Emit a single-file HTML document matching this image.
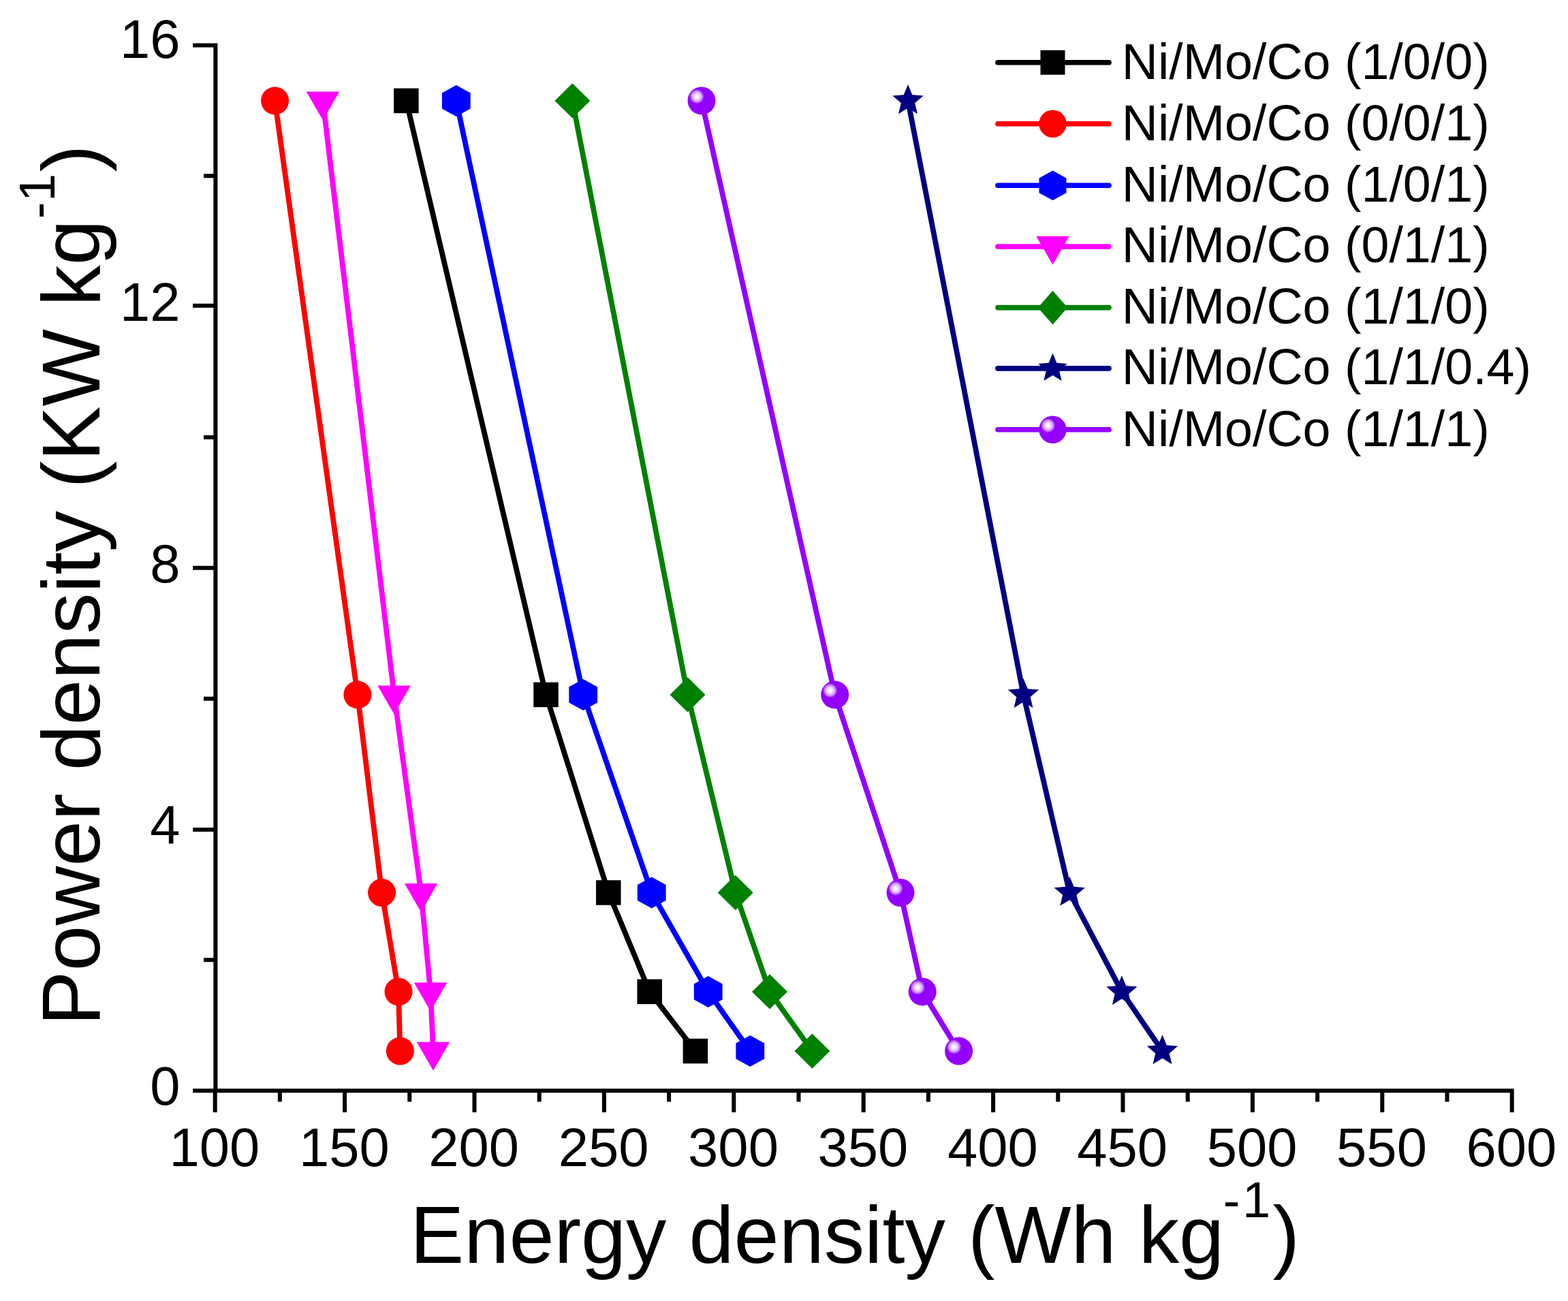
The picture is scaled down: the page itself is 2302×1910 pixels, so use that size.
<!DOCTYPE html>
<html><head><meta charset="utf-8"><title>Energy density vs power density</title>
<style>
html,body{margin:0;padding:0;background:#fff;}
svg{display:block;}
text{font-family:"Liberation Sans", sans-serif;fill:#000;}
.tl{font-size:79.6px;}
.lg{font-size:73.6px;}
.ti{font-size:118.8px;}
.sup{font-size:74px;}
</style></head><body>
<svg width="2302" height="1910" viewBox="0 0 2302 1910">
<rect width="2302" height="1910" fill="#fff"/>
<defs><radialGradient id="sph" cx="0.33" cy="0.35" r="0.5" fx="0.33" fy="0.35"><stop offset="0" stop-color="#ffffff"/><stop offset="0.14" stop-color="#f6eaff"/><stop offset="0.3" stop-color="#e0b2ff"/><stop offset="0.42" stop-color="#bb6aff"/><stop offset="0.52" stop-color="#9400ff"/><stop offset="1" stop-color="#9400ff"/></radialGradient></defs>
<path d="M316.4 63.4V1604.2M313.4 1601.2H2222.7M283.2 1601.2H316.4M299 1409.35H316.4M283.2 1218H316.4M299 1025.65H316.4M283.2 833.8H316.4M299 641.95H316.4M283.2 448.7H316.4M299 258.25H316.4M283.2 66.4H316.4M315.7 1601.2V1632.9M410.9 1601.2V1617.6M506.1 1601.2V1632.9M601.3 1601.2V1617.6M696.5 1601.2V1632.9M791.7 1601.2V1617.6M886.9 1601.2V1632.9M982.1 1601.2V1617.6M1077.3 1601.2V1632.9M1172.5 1601.2V1617.6M1267.7 1601.2V1632.9M1362.9 1601.2V1617.6M1458.1 1601.2V1632.9M1553.3 1601.2V1617.6M1648.5 1601.2V1632.9M1743.7 1601.2V1617.6M1838.9 1601.2V1632.9M1934.1 1601.2V1617.6M2029.3 1601.2V1632.9M2124.5 1601.2V1617.6M2219.7 1601.2V1632.9" fill="none" stroke="#000" stroke-width="6" stroke-linecap="butt"/>
<text x="264.6" y="1622" text-anchor="end" class="tl">0</text>
<text x="264.6" y="1238.2" text-anchor="end" class="tl">4</text>
<text x="264.6" y="854.8" text-anchor="end" class="tl">8</text>
<text x="264.6" y="470.5" text-anchor="end" class="tl">12</text>
<text x="264.6" y="85.2" text-anchor="end" class="tl">16</text>
<text x="314.9" y="1712.2" text-anchor="middle" class="tl">100</text>
<text x="505.3" y="1712.2" text-anchor="middle" class="tl">150</text>
<text x="695.7" y="1712.2" text-anchor="middle" class="tl">200</text>
<text x="886.1" y="1712.2" text-anchor="middle" class="tl">250</text>
<text x="1076.5" y="1712.2" text-anchor="middle" class="tl">300</text>
<text x="1266.9" y="1712.2" text-anchor="middle" class="tl">350</text>
<text x="1457.3" y="1712.2" text-anchor="middle" class="tl">400</text>
<text x="1647.7" y="1712.2" text-anchor="middle" class="tl">450</text>
<text x="1838.1" y="1712.2" text-anchor="middle" class="tl">500</text>
<text x="2028.5" y="1712.2" text-anchor="middle" class="tl">550</text>
<text x="2218.9" y="1712.2" text-anchor="middle" class="tl">600</text>
<path d="M596.4 147.9L801.5 1019.9L893.3 1310.5L953.7 1455.9L1020.9 1543.1" fill="none" stroke="#000000" stroke-width="7.8" stroke-linejoin="round" stroke-linecap="round"/>
<path d="M403.6 147.9L524.9 1019.9L560.6 1310.5L585 1455.9L587.4 1543.1" fill="none" stroke="#ff0000" stroke-width="7.8" stroke-linejoin="round" stroke-linecap="round"/>
<path d="M669.8 147.9L856.2 1019.9L956.7 1310.5L1039.7 1455.9L1101.3 1543.1" fill="none" stroke="#0000ff" stroke-width="7.8" stroke-linejoin="round" stroke-linecap="round"/>
<path d="M474 147.9L578.6 1019.9L618.1 1310.5L632 1455.9L636 1543.1" fill="none" stroke="#ff00ff" stroke-width="7.8" stroke-linejoin="round" stroke-linecap="round"/>
<path d="M840.4 147.9L1009.5 1019.9L1079.7 1310.5L1130 1455.9L1192.4 1543.1" fill="none" stroke="#008000" stroke-width="7.8" stroke-linejoin="round" stroke-linecap="round"/>
<path d="M1333 147.9L1502.5 1019.9L1570.3 1310.5L1646.9 1455.9L1706.5 1543.1" fill="none" stroke="#000080" stroke-width="7.8" stroke-linejoin="round" stroke-linecap="round"/>
<path d="M1030 147.9L1225.7 1019.9L1322 1310.5L1354.2 1455.9L1407.6 1543.1" fill="none" stroke="#9400ff" stroke-width="7.8" stroke-linejoin="round" stroke-linecap="round"/>
<rect x="578.15" y="129.65" width="36.5" height="36.5" fill="#000000"/>
<rect x="783.25" y="1001.65" width="36.5" height="36.5" fill="#000000"/>
<rect x="875.05" y="1292.25" width="36.5" height="36.5" fill="#000000"/>
<rect x="935.45" y="1437.65" width="36.5" height="36.5" fill="#000000"/>
<rect x="1002.65" y="1524.85" width="36.5" height="36.5" fill="#000000"/>
<circle cx="403.6" cy="147.9" r="20.5" fill="#ff0000"/>
<circle cx="524.9" cy="1019.9" r="20.5" fill="#ff0000"/>
<circle cx="560.6" cy="1310.5" r="20.5" fill="#ff0000"/>
<circle cx="585" cy="1455.9" r="20.5" fill="#ff0000"/>
<circle cx="587.4" cy="1543.1" r="20.5" fill="#ff0000"/>
<polygon points="669.8,124.9 690.71,136.4 690.71,159.4 669.8,170.9 648.89,159.4 648.89,136.4" fill="#0000ff"/>
<polygon points="856.2,996.9 877.11,1008.4 877.11,1031.4 856.2,1042.9 835.29,1031.4 835.29,1008.4" fill="#0000ff"/>
<polygon points="956.7,1287.5 977.61,1299 977.61,1322 956.7,1333.5 935.79,1322 935.79,1299" fill="#0000ff"/>
<polygon points="1039.7,1432.9 1060.61,1444.4 1060.61,1467.4 1039.7,1478.9 1018.79,1467.4 1018.79,1444.4" fill="#0000ff"/>
<polygon points="1101.3,1520.1 1122.21,1531.6 1122.21,1554.6 1101.3,1566.1 1080.39,1554.6 1080.39,1531.6" fill="#0000ff"/>
<polygon points="449.75,134.5 498.25,134.5 474,176.5" fill="#ff00ff"/>
<polygon points="554.35,1006.5 602.85,1006.5 578.6,1048.5" fill="#ff00ff"/>
<polygon points="593.85,1297.1 642.35,1297.1 618.1,1339.1" fill="#ff00ff"/>
<polygon points="607.75,1442.5 656.25,1442.5 632,1484.5" fill="#ff00ff"/>
<polygon points="611.75,1529.7 660.25,1529.7 636,1571.7" fill="#ff00ff"/>
<polygon points="840.4,122.2 866.4,147.9 840.4,173.6 814.4,147.9" fill="#008000"/>
<polygon points="1009.5,994.2 1035.5,1019.9 1009.5,1045.6 983.5,1019.9" fill="#008000"/>
<polygon points="1079.7,1284.8 1105.7,1310.5 1079.7,1336.2 1053.7,1310.5" fill="#008000"/>
<polygon points="1130,1430.2 1156,1455.9 1130,1481.6 1104,1455.9" fill="#008000"/>
<polygon points="1192.4,1517.4 1218.4,1543.1 1192.4,1568.8 1166.4,1543.1" fill="#008000"/>
<polygon points="1333,124.1 1339.3,139.24 1355.64,140.55 1343.19,151.21 1346.99,167.15 1333,158.61 1319.01,167.15 1322.81,151.21 1310.36,140.55 1326.7,139.24" fill="#000080"/>
<polygon points="1502.5,996.1 1508.8,1011.24 1525.14,1012.55 1512.69,1023.21 1516.49,1039.15 1502.5,1030.61 1488.51,1039.15 1492.31,1023.21 1479.86,1012.55 1496.2,1011.24" fill="#000080"/>
<polygon points="1570.3,1286.7 1576.6,1301.84 1592.94,1303.15 1580.49,1313.81 1584.29,1329.75 1570.3,1321.21 1556.31,1329.75 1560.11,1313.81 1547.66,1303.15 1564,1301.84" fill="#000080"/>
<polygon points="1646.9,1432.1 1653.2,1447.24 1669.54,1448.55 1657.09,1459.21 1660.89,1475.15 1646.9,1466.61 1632.91,1475.15 1636.71,1459.21 1624.26,1448.55 1640.6,1447.24" fill="#000080"/>
<polygon points="1706.5,1519.3 1712.8,1534.44 1729.14,1535.75 1716.69,1546.41 1720.49,1562.35 1706.5,1553.81 1692.51,1562.35 1696.31,1546.41 1683.86,1535.75 1700.2,1534.44" fill="#000080"/>
<circle cx="1030" cy="147.9" r="20.5" fill="url(#sph)"/>
<circle cx="1225.7" cy="1019.9" r="20.5" fill="url(#sph)"/>
<circle cx="1322" cy="1310.5" r="20.5" fill="url(#sph)"/>
<circle cx="1354.2" cy="1455.9" r="20.5" fill="url(#sph)"/>
<circle cx="1407.6" cy="1543.1" r="20.5" fill="url(#sph)"/>
<path d="M1464.9 91.7H1628.1" stroke="#000000" stroke-width="7.6" stroke-linecap="round"/>
<rect x="1527.5" y="73.7" width="36" height="36" fill="#000000"/>
<text x="1646.8" y="115.8" class="lg">Ni/Mo/Co (1/0/0)</text>
<path d="M1464.9 181.7H1628.1" stroke="#ff0000" stroke-width="7.6" stroke-linecap="round"/>
<circle cx="1545.5" cy="181.7" r="20.25" fill="#ff0000"/>
<text x="1646.8" y="206.1" class="lg">Ni/Mo/Co (0/0/1)</text>
<path d="M1464.9 272.3H1628.1" stroke="#0000ff" stroke-width="7.6" stroke-linecap="round"/>
<polygon points="1545.5,250.5 1565.51,261.4 1565.51,283.2 1545.5,294.1 1525.49,283.2 1525.49,261.4" fill="#0000ff"/>
<text x="1646.8" y="295.6" class="lg">Ni/Mo/Co (1/0/1)</text>
<path d="M1464.9 362H1628.1" stroke="#ff00ff" stroke-width="7.6" stroke-linecap="round"/>
<polygon points="1521.25,346.8 1569.75,346.8 1545.5,388.8" fill="#ff00ff"/>
<text x="1646.8" y="385.3" class="lg">Ni/Mo/Co (0/1/1)</text>
<path d="M1464.9 451.6H1628.1" stroke="#008000" stroke-width="7.6" stroke-linecap="round"/>
<polygon points="1545.5,426.8 1567.3,451.6 1545.5,476.4 1523.7,451.6" fill="#008000"/>
<text x="1646.8" y="474.7" class="lg">Ni/Mo/Co (1/1/0)</text>
<path d="M1464.9 540.9H1628.1" stroke="#000080" stroke-width="7.6" stroke-linecap="round"/>
<polygon points="1545.5,518.5 1551.42,532.75 1566.8,533.98 1555.09,544.01 1558.67,559.02 1545.5,550.98 1532.33,559.02 1535.91,544.01 1524.2,533.98 1539.58,532.75" fill="#000080"/>
<text x="1646.8" y="564.1" class="lg">Ni/Mo/Co (1/1/0.4)</text>
<path d="M1464.9 630.7H1628.1" stroke="#9400ff" stroke-width="7.6" stroke-linecap="round"/>
<circle cx="1545.5" cy="630.7" r="20.25" fill="url(#sph)"/>
<text x="1646.8" y="655.1" class="lg">Ni/Mo/Co (1/1/1)</text>
<text transform="translate(602.1 1853.6) scale(1 1)" class="ti"><tspan x="0" y="0">Energy density (Wh kg</tspan><tspan x="1193.7" y="-65.3" class="sup">-</tspan><tspan x="1222" y="-66.3" class="sup">1</tspan><tspan x="1266.5" y="0">)</tspan></text>
<text transform="translate(146.2 1505.7) rotate(-90) scale(1 1)" class="ti" style="font-size:120.3px"><tspan x="0" y="0">Power density (KW kg</tspan><tspan x="1184.5" y="-65.7" class="sup">-</tspan><tspan x="1209.7" y="-66.7" class="sup">1</tspan><tspan x="1253.1" y="0">)</tspan></text>
</svg>
</body></html>
